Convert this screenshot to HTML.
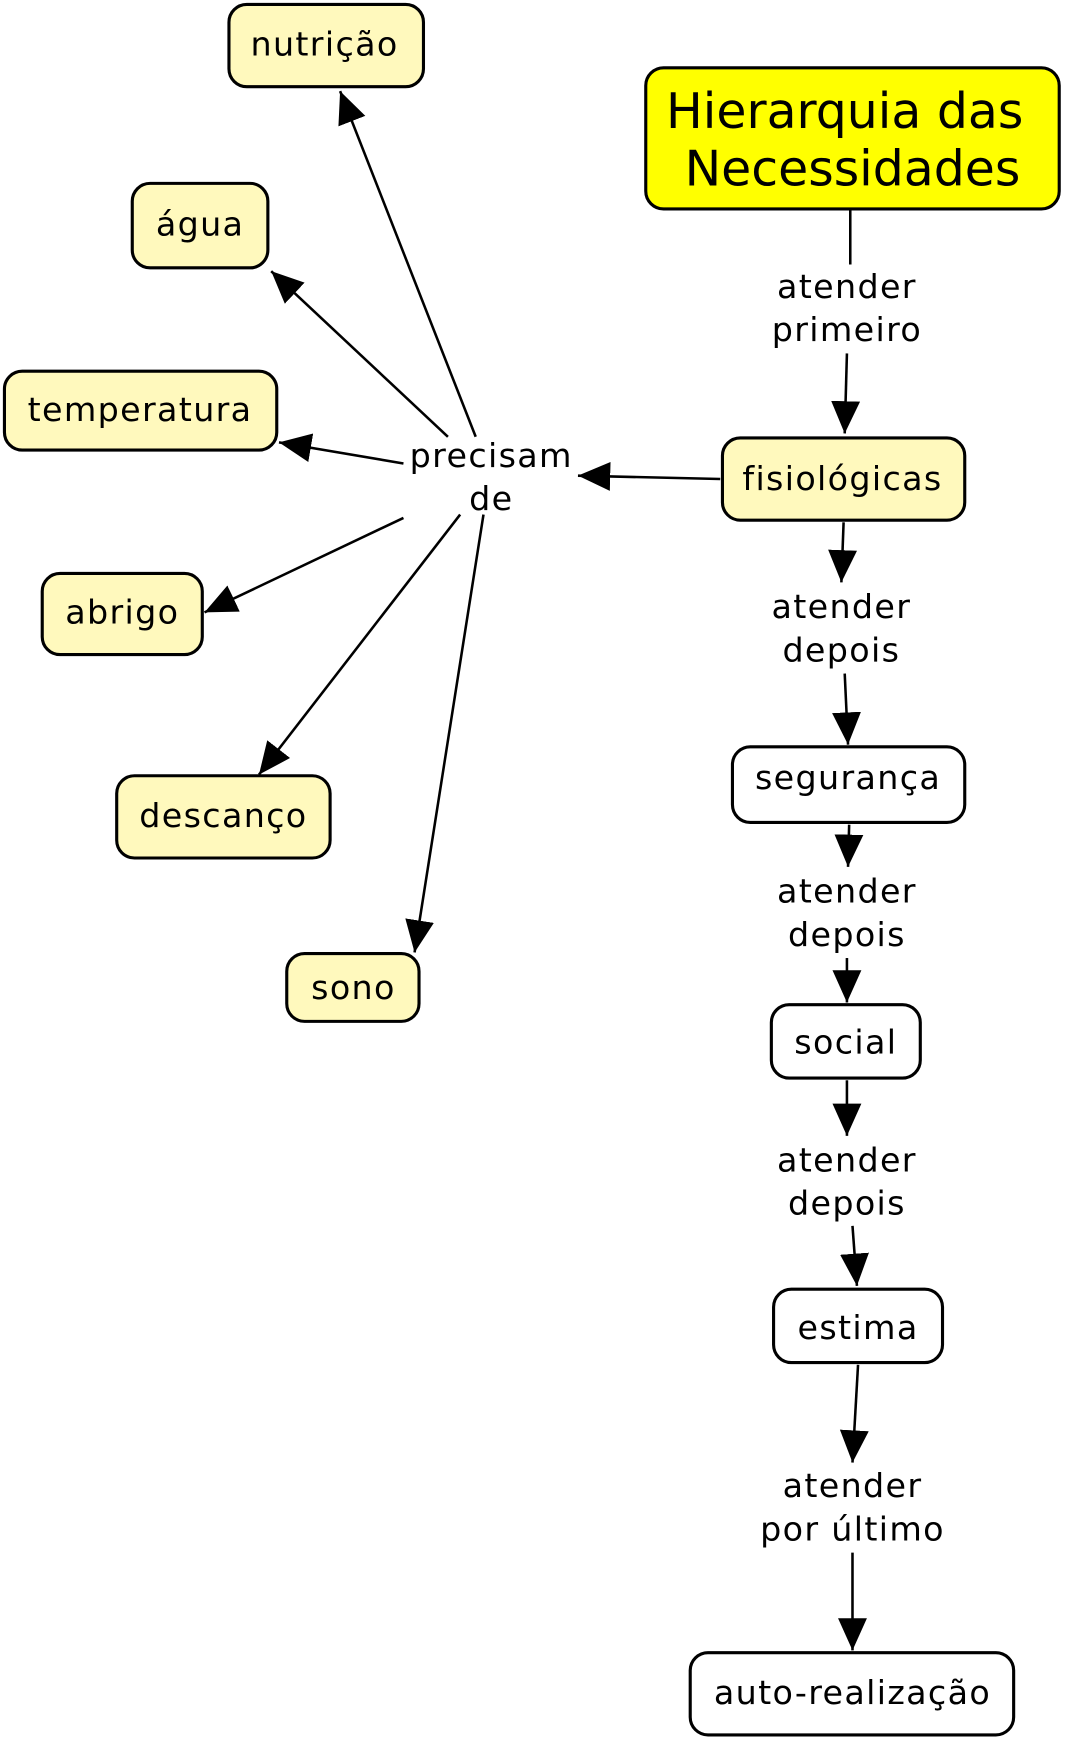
<!DOCTYPE html>
<html><head><meta charset="utf-8"><style>
html,body{margin:0;padding:0;background:#fff;}
svg{display:block;}
text{font-family:"DejaVu Sans","Liberation Sans",sans-serif;fill:#000;}
</style></head><body>
<svg width="1067" height="1746" viewBox="0 0 960 1571" preserveAspectRatio="none" xmlns="http://www.w3.org/2000/svg">
<defs>
<marker id="a" markerUnits="userSpaceOnUse" markerWidth="30" markerHeight="28" refX="29" refY="13" orient="auto">
<path d="M0,0 L29,13 L0,26 Z" fill="#000"/>
</marker>
</defs>
<g stroke="#000" stroke-width="2.3" fill="none">
<line x1="765" y1="188" x2="765" y2="238"/>
<line x1="762" y1="318" x2="760" y2="390" marker-end="url(#a)"/>
<line x1="648" y1="431" x2="520" y2="428" marker-end="url(#a)"/>
<line x1="428" y1="393" x2="306" y2="82" marker-end="url(#a)"/>
<line x1="403" y1="393" x2="244" y2="244" marker-end="url(#a)"/>
<line x1="363" y1="417" x2="251" y2="398" marker-end="url(#a)"/>
<line x1="363" y1="466" x2="184" y2="551" marker-end="url(#a)"/>
<line x1="414" y1="463" x2="233" y2="697" marker-end="url(#a)"/>
<line x1="435" y1="463" x2="373" y2="857" marker-end="url(#a)"/>
<line x1="759" y1="470" x2="757" y2="524" marker-end="url(#a)"/>
<line x1="760" y1="606" x2="763" y2="670" marker-end="url(#a)"/>
<line x1="764" y1="742" x2="763" y2="780" marker-end="url(#a)"/>
<line x1="762" y1="862" x2="762" y2="902" marker-end="url(#a)"/>
<line x1="762" y1="972" x2="762" y2="1022" marker-end="url(#a)"/>
<line x1="767" y1="1103" x2="771" y2="1157" marker-end="url(#a)"/>
<line x1="772" y1="1228" x2="767" y2="1316" marker-end="url(#a)"/>
<line x1="767" y1="1397" x2="767" y2="1485" marker-end="url(#a)"/>
</g>
<g stroke="#000" stroke-width="2.8">
<rect x="581" y="61" width="372" height="127" rx="16" fill="#ffff00"/>
<rect x="206" y="4" width="175" height="74" rx="16" fill="#fff9bd"/>
<rect x="119" y="165" width="122" height="76" rx="16" fill="#fff9bd"/>
<rect x="4" y="334" width="245" height="71" rx="16" fill="#fff9bd"/>
<rect x="38" y="516" width="144" height="73" rx="16" fill="#fff9bd"/>
<rect x="105" y="698" width="192" height="74" rx="16" fill="#fff9bd"/>
<rect x="258" y="858" width="119" height="61" rx="16" fill="#fff9bd"/>
<rect x="650" y="394" width="218" height="74" rx="16" fill="#fff9bd"/>
<rect x="659" y="672" width="209" height="68" rx="16" fill="#fff"/>
<rect x="694" y="904" width="134" height="66" rx="16" fill="#fff"/>
<rect x="696" y="1160" width="152" height="66" rx="16" fill="#fff"/>
<rect x="621" y="1487" width="291" height="74" rx="16" fill="#fff"/>
</g>
<g text-anchor="middle" font-size="30" letter-spacing="1.2">
<text x="760" y="115" font-size="44" letter-spacing="0">Hierarquia das</text>
<text x="767" y="167" font-size="44" letter-spacing="0">Necessidades</text>
<text x="292" y="50">nutrição</text>
<text x="180" y="212">água</text>
<text x="126" y="379">temperatura</text>
<text x="110" y="561">abrigo</text>
<text x="201" y="744">descanço</text>
<text x="318" y="899">sono</text>
<text x="758" y="441">fisiológicas</text>
<text x="763" y="710">segurança</text>
<text x="761" y="948">social</text>
<text x="772" y="1205">estima</text>
<text x="767" y="1533">auto-realização</text>
<text x="762" y="268">atender</text>
<text x="762" y="307">primeiro</text>
<text x="442" y="420">precisam</text>
<text x="442" y="459">de</text>
<text x="757" y="556">atender</text>
<text x="757" y="595">depois</text>
<text x="762" y="812">atender</text>
<text x="762" y="851">depois</text>
<text x="762" y="1054">atender</text>
<text x="762" y="1093">depois</text>
<text x="767" y="1347">atender</text>
<text x="767" y="1386">por último</text>
</g>
</svg>
</body></html>
